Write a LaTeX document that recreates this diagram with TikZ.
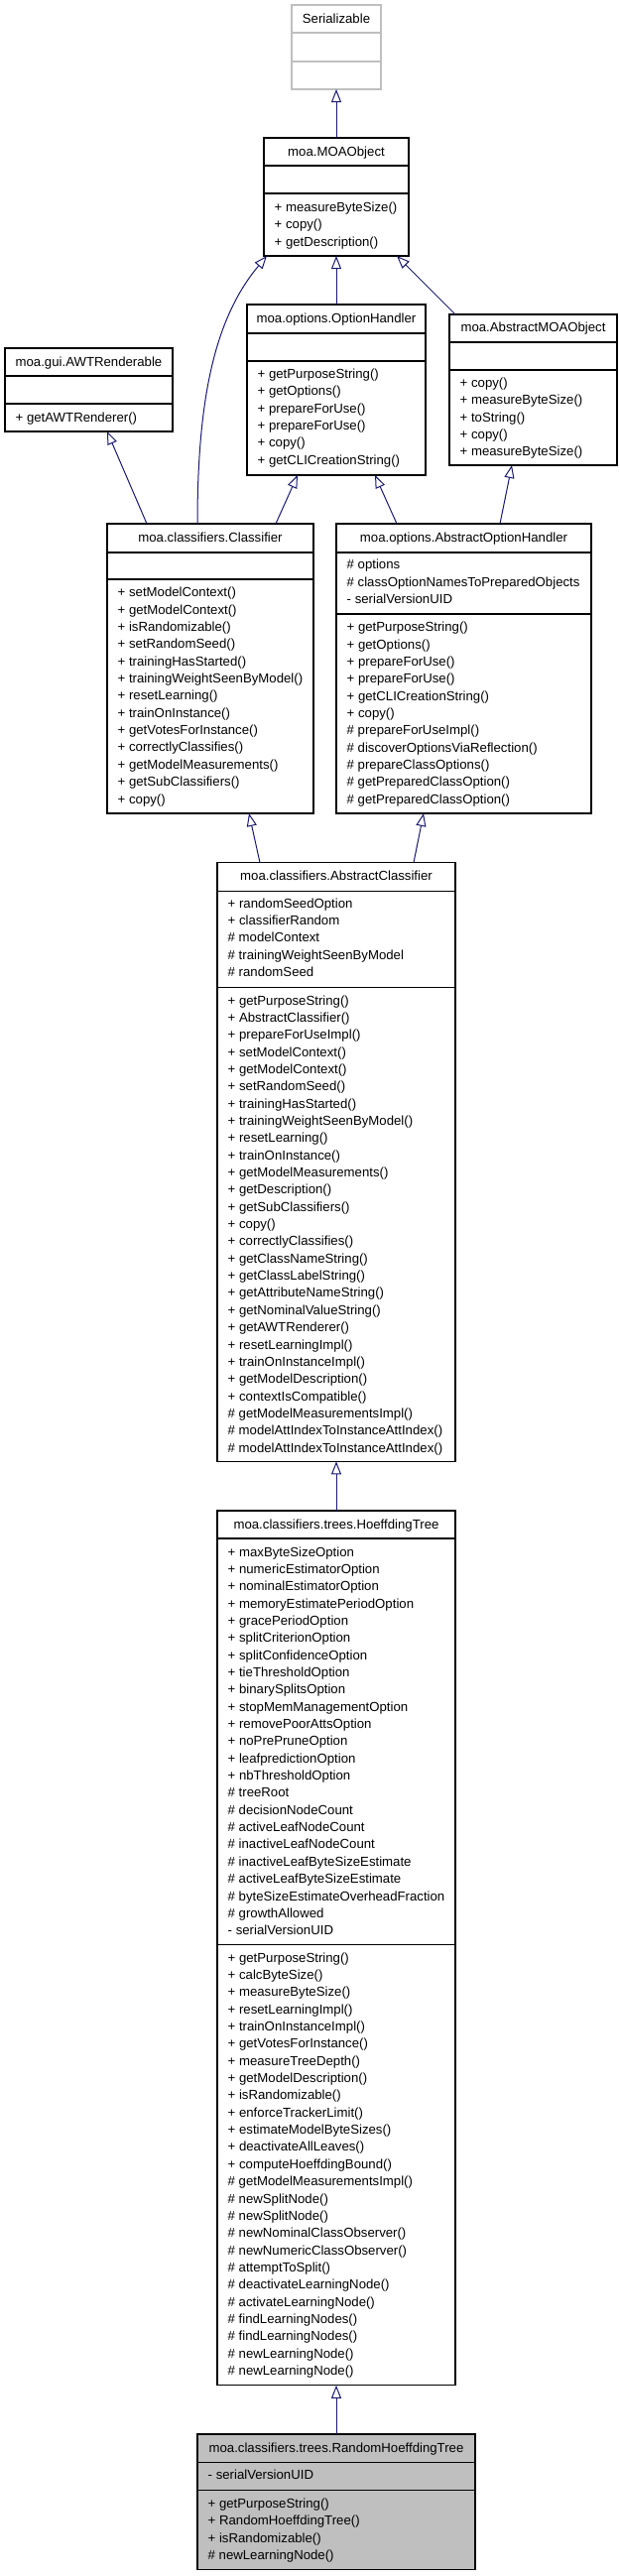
\documentclass[tikz,border=0pt]{standalone}
\usepackage{fontspec}
\setmainfont{Liberation Sans}
\usetikzlibrary{arrows.meta}
\definecolor{navy}{HTML}{191970}
\definecolor{lgrey}{HTML}{BFBFBF}
\newcommand\fs{\fontsize{13.2}{17.35}\selectfont}
\newcommand\rows[4]{\foreach \t [count=\i from 0] in {#4} \node[txt] (#1\i) at (#2, #3+4.5+\i*17.35) {\t};}
\newcommand\seps[3]{\draw[sepline] ([yshift=-#2pt]#1.north west) -- ([yshift=-#2pt]#1.north east);
  \draw[sepline] ([yshift=-#3pt]#1.north west) -- ([yshift=-#3pt]#1.north east);}
\tikzset{
  box/.style={draw=black, line width=1.1pt, inner sep=0pt, outer sep=0pt, anchor=north west, fill=white},
  sepline/.style={line width=1.1pt},
  txt/.style={anchor=base west, inner sep=0pt, font=\fs},
  ttl/.style={anchor=base, inner sep=0pt, font=\fs},
  inh/.style={draw=navy, line width=1pt, -{Triangle[open, fill=white, length=13pt, width=10pt]}},
}
\begin{document}
\begin{tikzpicture}[x=1pt, y=-1pt]
\useasboundingbox (0,0) rectangle (624,2597);
% Serializable
\node[box, draw=lgrey, minimum width=90pt, minimum height=85pt] (ser) at (294,5) {};
\draw[sepline, lgrey] ([yshift=-28pt]ser.north west) -- ([yshift=-28pt]ser.north east);
\draw[sepline, lgrey] ([yshift=-57pt]ser.north west) -- ([yshift=-57pt]ser.north east);
\node[ttl] (serT) at (339,23) {Serializable};
% MOAObject
\node[box, minimum width=146pt, minimum height=119pt] (moa) at (266,139) {};
\seps{moa}{28}{56}
\node[ttl] (moaT) at (339,157.5) {moa.MOAObject};
\rows{moaM}{276.5}{209}{{+ measureByteSize()},{+ copy()},{+ getDescription()}}
% OptionHandler
\node[box, minimum width=180pt, minimum height=172pt] (oh) at (249,307) {};
\seps{oh}{29}{57}
\node[ttl] (ohT) at (339,325.5) {moa.options.OptionHandler};
\rows{ohM}{259.5}{377}{{+ getPurposeString()},{+ getOptions()},{+ prepareForUse()},{+ prepareForUse()},{+ copy()},{+ getCLICreationString()}}
% AbstractMOAObject
\node[box, minimum width=169pt, minimum height=152pt] (amo) at (453,317) {};
\seps{amo}{28}{56}
\node[ttl] (amoT) at (537.5,334) {moa.AbstractMOAObject};
\rows{amoM}{463.5}{386}{{+ copy()},{+ measureByteSize()},{+ toString()},{+ copy()},{+ measureByteSize()}}
% AWTRenderable
\node[box, minimum width=169pt, minimum height=84pt] (awt) at (5,351) {};
\seps{awt}{28}{56}
\node[ttl] (awtT) at (89.5,369) {moa.gui.AWTRenderable};
\rows{awtM}{15.5}{421}{{+ getAWTRenderer()}}
% Classifier
\node[box, minimum width=208pt, minimum height=292pt] (cls) at (108,528) {};
\seps{cls}{29}{56}
\node[ttl] (clsT) at (212,546.5) {moa.classifiers.Classifier};
\rows{clsM}{118.5}{597.3}{{+ setModelContext()},{+ getModelContext()},{+ isRandomizable()},{+ setRandomSeed()},{+ trainingHasStarted()},{+ trainingWeightSeenByModel()},{+ resetLearning()},{+ trainOnInstance()},{+ getVotesForInstance()},{+ correctlyClassifies()},{+ getModelMeasurements()},{+ getSubClassifiers()},{+ copy()}}
% AbstractOptionHandler
\node[box, minimum width=257pt, minimum height=292pt] (aoh) at (339,528) {};
\seps{aoh}{29}{91}
\node[ttl] (aohT) at (467.5,546.5) {moa.options.AbstractOptionHandler};
\rows{aohA}{349.5}{569.3}{{\# options},{\# classOptionNamesToPreparedObjects},{- serialVersionUID}}
\rows{aohM}{349.5}{632.3}{{+ getPurposeString()},{+ getOptions()},{+ prepareForUse()},{+ prepareForUse()},{+ getCLICreationString()},{+ copy()},{\# prepareForUseImpl()},{\# discoverOptionsViaReflection()},{\# prepareClassOptions()},{\# getPreparedClassOption()},{\# getPreparedClassOption()}}
% AbstractClassifier
\node[box, minimum width=240pt, minimum height=603.8pt] (ac) at (219,869.6) {};
\seps{ac}{28.7}{125.5}
\node[ttl] (acT) at (339,887) {moa.classifiers.AbstractClassifier};
\rows{acA}{229.5}{910.5}{{+ randomSeedOption},{+ classifierRandom},{\# modelContext},{\# trainingWeightSeenByModel},{\# randomSeed}}
\rows{acM}{229.5}{1008.5}{{+ getPurposeString()},{+ AbstractClassifier()},{+ prepareForUseImpl()},{+ setModelContext()},{+ getModelContext()},{+ setRandomSeed()},{+ trainingHasStarted()},{+ trainingWeightSeenByModel()},{+ resetLearning()},{+ trainOnInstance()},{+ getModelMeasurements()},{+ getDescription()},{+ getSubClassifiers()},{+ copy()},{+ correctlyClassifies()},{+ getClassNameString()},{+ getClassLabelString()},{+ getAttributeNameString()},{+ getNominalValueString()},{+ getAWTRenderer()},{+ resetLearningImpl()},{+ trainOnInstanceImpl()},{+ getModelDescription()},{+ contextIsCompatible()},{\# getModelMeasurementsImpl()},{\# modelAttIndexToInstanceAttIndex()},{\# modelAttIndexToInstanceAttIndex()}}
% HoeffdingTree
\node[box, minimum width=240pt, minimum height=881.8pt] (ht) at (219,1523) {};
\seps{ht}{28}{437.6}
\node[ttl] (htT) at (339,1541) {moa.classifiers.trees.HoeffdingTree};
\rows{htA}{229.5}{1564.5}{{+ maxByteSizeOption},{+ numericEstimatorOption},{+ nominalEstimatorOption},{+ memoryEstimatePeriodOption},{+ gracePeriodOption},{+ splitCriterionOption},{+ splitConfidenceOption},{+ tieThresholdOption},{+ binarySplitsOption},{+ stopMemManagementOption},{+ removePoorAttsOption},{+ noPrePruneOption},{+ leafpredictionOption},{+ nbThresholdOption},{\# treeRoot},{\# decisionNodeCount},{\# activeLeafNodeCount},{\# inactiveLeafNodeCount},{\# inactiveLeafByteSizeEstimate},{\# activeLeafByteSizeEstimate},{\# byteSizeEstimateOverheadFraction},{\# growthAllowed},{- serialVersionUID}}
\rows{htM}{229.5}{1973.6}{{+ getPurposeString()},{+ calcByteSize()},{+ measureByteSize()},{+ resetLearningImpl()},{+ trainOnInstanceImpl()},{+ getVotesForInstance()},{+ measureTreeDepth()},{+ getModelDescription()},{+ isRandomizable()},{+ enforceTrackerLimit()},{+ estimateModelByteSizes()},{+ deactivateAllLeaves()},{+ computeHoeffdingBound()},{\# getModelMeasurementsImpl()},{\# newSplitNode()},{\# newSplitNode()},{\# newNominalClassObserver()},{\# newNumericClassObserver()},{\# attemptToSplit()},{\# deactivateLearningNode()},{\# activateLearningNode()},{\# findLearningNodes()},{\# findLearningNodes()},{\# newLearningNode()},{\# newLearningNode()}}
% RandomHoeffdingTree
\node[box, fill=lgrey, minimum width=280pt, minimum height=136.6pt] (rht) at (199,2454) {};
\seps{rht}{28.3}{56.7}
\node[ttl] (rhtT) at (339,2472) {moa.classifiers.trees.RandomHoeffdingTree};
\rows{rhtA}{209.5}{2495.4}{{- serialVersionUID}}
\rows{rhtM}{209.5}{2523.8}{{+ getPurposeString()},{+ RandomHoeffdingTree()},{+ isRandomizable()},{\# newLearningNode()}}
% inheritance connectors
\draw[inh] (moa.north) -- (ser.south);
\draw[inh] (oh.north) -- (moa.south);
\draw[inh] ([xshift=6pt]amo.north west) -- ([xshift=134pt]moa.south west);
\draw[inh] ([xshift=91pt]cls.north west) .. controls (199,400) and (217,320) .. ([xshift=3pt]moa.south west);
\draw[inh] ([xshift=40pt]cls.north west) -- ([xshift=103pt]awt.south west);
\draw[inh] ([xshift=170pt]cls.north west) -- ([xshift=51pt]oh.south west);
\draw[inh] ([xshift=61pt]aoh.north west) -- ([xshift=129pt]oh.south west);
\draw[inh] ([xshift=165pt]aoh.north west) -- ([xshift=63pt]amo.south west);
\draw[inh] ([xshift=43pt]ac.north west) -- ([xshift=143pt]cls.south west);
\draw[inh] ([xshift=198pt]ac.north west) -- ([xshift=88pt]aoh.south west);
\draw[inh] (ht.north) -- (ac.south);
\draw[inh] (rht.north) -- (ht.south);
\end{tikzpicture}
\end{document}
